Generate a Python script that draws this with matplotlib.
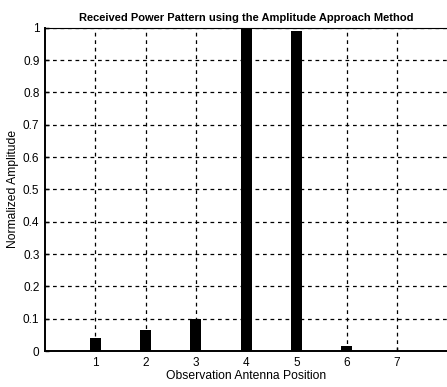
import numpy as np
import matplotlib.pyplot as plt

plt.rcParams['font.family'] = ['Liberation Sans', 'DejaVu Sans']

# normalized received power at each observation antenna
positions = [1, 2, 3, 4, 5, 6, 7]
amplitude = [0.04, 0.065, 0.10, 1.0, 0.99, 0.015, 0.0]

fig = plt.figure(figsize=(4.47, 3.87), dpi=100)
ax = fig.add_axes([0.1007, 0.093, 0.9, 0.835])

ax.bar(positions, amplitude, width=0.22, color='black', zorder=3)

ax.set_xlim(0, 8)
ax.set_ylim(0, 1)
ax.set_xticks(positions)
ax.set_yticks(np.arange(0, 1.01, 0.1))
ax.set_yticklabels(['0', '0.1', '0.2', '0.3', '0.4', '0.5', '0.6', '0.7', '0.8', '0.9', '1'])
ax.tick_params(direction='in', labelsize=8.5, length=3, width=1, pad=4)

ax.grid(True, color='black', linestyle=(0, (3, 3)), linewidth=0.9)
ax.set_axisbelow(True)

for s in ['left', 'bottom']:
    ax.spines[s].set_linewidth(1.4)
ax.spines['right'].set_visible(False)
ax.spines['top'].set_linewidth(0.8)

ax.set_title('Received Power Pattern using the Amplitude Approach Method',
             fontsize=8.0, pad=5, fontweight='semibold')
ax.set_xlabel('Observation Antenna Position', fontsize=8.7, labelpad=1)
ax.set_ylabel('Normalized Amplitude', fontsize=8.7, labelpad=3)

fig.savefig('out.png', dpi=100)
